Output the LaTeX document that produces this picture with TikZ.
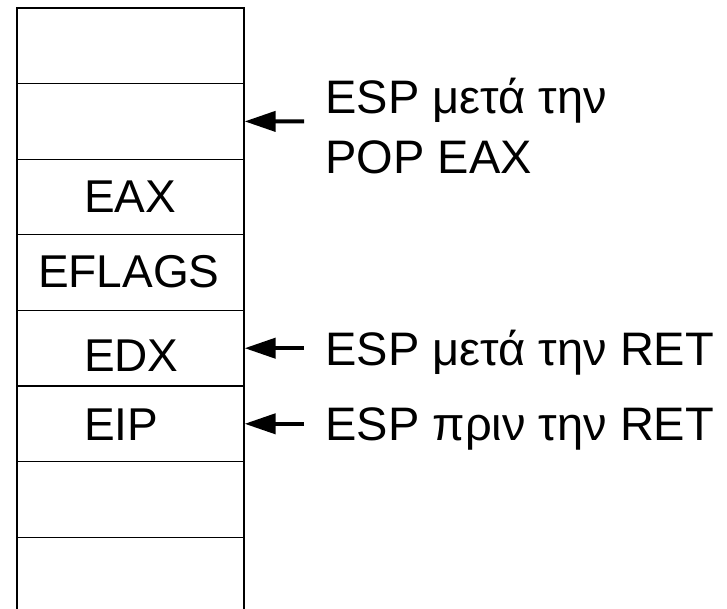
\documentclass[tikz,border=0pt]{standalone}
\usepackage{fontspec}
\setmainfont{Liberation Sans}
\usetikzlibrary{arrows.meta}

\begin{document}
\begin{tikzpicture}[x=1pt, y=-1pt,
  cell/.style={draw=black, line width=1.2pt, minimum width=227pt, minimum height=75.6pt,
               inner sep=0pt, outer sep=0pt, anchor=north west},
  txt/.style={inner sep=0pt, outer sep=0pt, anchor=base west,
              font=\fontsize{46}{55}\selectfont},
  lbl/.style={txt, font=\fontsize{47}{56}\selectfont},
  pointer/.style={line width=4pt, -{Triangle[length=31pt, width=20pt]}, shorten >=0.6pt}
]
  \useasboundingbox (0,0) rectangle (727,609);

  % stack cells, top to bottom
  \node[cell] (c1) at (17,8) {};
  \node[cell] (c2) at (17,83.6) {};
  \node[cell] (c3) at (17,159.2) {};
  \node[cell] (c4) at (17,234.8) {};
  \node[cell] (c5) at (17,310.4) {};
  \node[cell] (c6) at (17,386) {};
  \node[cell] (c7) at (17,461.6) {};
  % open bottom of the stack
  \draw[line width=1.2pt] (c7.south west) -- (17,612);
  \draw[line width=1.2pt] (c7.south east) -- (244,612);

  % cell contents
  \node[txt] (eax) at (84,213) {EAX};
  \node[txt] (efl) at (38,287.5) {EFLAGS};
  \node[txt] (edx) at (84,371) {EDX};
  \node[txt] (eip) at (84,440) {EIP};

  % labels on the right
  \node[lbl] (l1a) at (325.5,113.7) {ESP μετά την};
  \node[lbl] (l1b) at (325.5,174) {POP EAX};
  \node[lbl] (l2) at (325.5,365) {ESP μετά την RET};
  \node[lbl] (l3) at (325.5,440) {ESP πριν την RET};

  % arrow tails
  \coordinate (t1) at (304,121.4);
  \coordinate (t2) at (304,348.2);
  \coordinate (t3) at (304,423.8);

  \draw[pointer] (t1) -- (c2.east);
  \draw[pointer] (t2) -- (c5.east);
  \draw[pointer] (t3) -- (c6.east);
\end{tikzpicture}
\end{document}
